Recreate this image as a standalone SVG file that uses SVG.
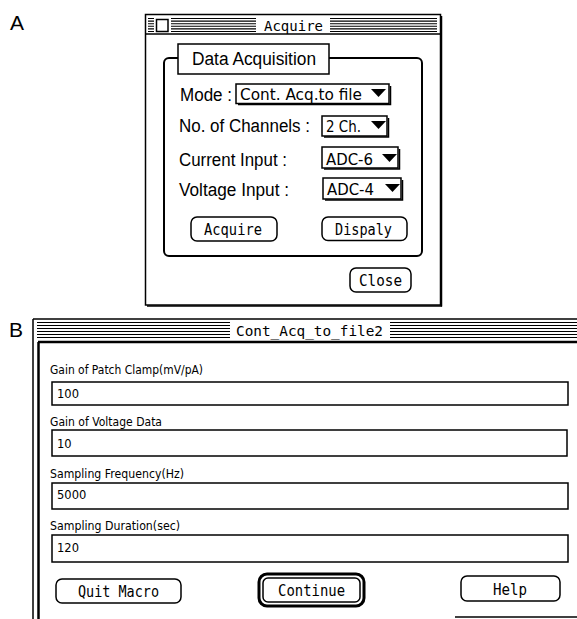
<svg xmlns="http://www.w3.org/2000/svg" width="577" height="619" viewBox="0 0 577 619">
<style>
.ln{stroke:#000;fill:none}
.box{fill:#fff;stroke:#000;stroke-width:1.5}
.stripe{stroke:#000;stroke-width:1.1}
.lbl{font-family:"Liberation Sans",Arial,sans-serif;font-size:18px;fill:#000}
.dd{font-family:"DejaVu Sans",Verdana,sans-serif;font-size:16px;fill:#000}
.mono{font-family:"DejaVu Sans Mono","Liberation Mono",monospace;fill:#000}
.small{font-family:"DejaVu Sans",Verdana,sans-serif;font-size:11.5px;fill:#000}
.btn{fill:#fff;stroke:#000;stroke-width:1.5}
.panel{font-family:"Liberation Sans",Arial,sans-serif;font-size:21px;fill:#000}
</style>
<rect width="577" height="619" fill="#fff"/>

<text class="panel" x="10" y="30">A</text>
<text class="panel" x="9" y="337">B</text>

<g id="acquire-window">
  <rect x="145.5" y="14.5" width="295" height="290.5" fill="#fff" stroke="#000" stroke-width="1.5"/>
  <line class="ln" x1="441.5" y1="16" x2="441.5" y2="306.5" stroke-width="1.5"/>
  <line class="ln" x1="147" y1="306" x2="442" y2="306" stroke-width="1.5"/>
  <line class="ln" x1="145.5" y1="34" x2="440.5" y2="34" stroke-width="1.5"/>
  <g id="acquire-stripes">
    <path class="stripe" d="M148 18.5H154M148 21.1H154M148 23.7H154M148 26.3H154M148 28.9H154M148 31.5H154"/>
    <path class="stripe" d="M171 18.5H256M171 21.1H256M171 23.7H256M171 26.3H256M171 28.9H256M171 31.5H256"/>
    <path class="stripe" d="M330 18.5H437M330 21.1H437M330 23.7H437M330 26.3H437M330 28.9H437M330 31.5H437"/>
  </g>
  <rect class="box" x="156.5" y="19.5" width="11.5" height="12"/>
  <text class="mono" x="264" y="30.5" font-size="14.5" textLength="59" lengthAdjust="spacingAndGlyphs">Acquire</text>
</g>

<g id="data-acquisition-group">
  <rect x="164" y="58" width="258" height="198" rx="5" fill="none" stroke="#000" stroke-width="2"/>
  <rect class="box" x="178" y="44" width="151" height="30"/>
  <text class="lbl" x="192" y="65" font-size="17" textLength="124" lengthAdjust="spacingAndGlyphs">Data Acquisition</text>
</g>

<g id="mode-row">
  <text class="lbl" x="180" y="101" textLength="52" lengthAdjust="spacingAndGlyphs">Mode :</text>
  <rect class="box" x="236" y="84" width="153" height="19.5"/>
  <path class="ln" d="M238 104.5H390.5V86" stroke-width="1.5"/>
  <text class="dd" x="240" y="100" textLength="122" lengthAdjust="spacingAndGlyphs">Cont. Acq.to file</text>
  <polygon points="371,89 386,89 378.5,97" fill="#000"/>
</g>

<g id="channels-row">
  <text class="lbl" x="179" y="132" textLength="131" lengthAdjust="spacingAndGlyphs">No. of Channels :</text>
  <rect class="box" x="322" y="116" width="65" height="20"/>
  <path class="ln" d="M324 137H388.5V118" stroke-width="1.5"/>
  <text class="dd" x="326" y="132" textLength="35" lengthAdjust="spacingAndGlyphs">2 Ch.</text>
  <polygon points="371,121 386,121 378.5,129" fill="#000"/>
</g>

<g id="current-row">
  <text class="lbl" x="179" y="166" textLength="108" lengthAdjust="spacingAndGlyphs">Current Input :</text>
  <rect class="box" x="322" y="147" width="76" height="21"/>
  <path class="ln" d="M324 169H399.5V149" stroke-width="1.5"/>
  <text class="dd" x="326" y="165" textLength="47" lengthAdjust="spacingAndGlyphs">ADC-6</text>
  <polygon points="382,154 397,154 389.5,162" fill="#000"/>
</g>

<g id="voltage-row">
  <text class="lbl" x="179" y="196" textLength="110" lengthAdjust="spacingAndGlyphs">Voltage Input :</text>
  <rect class="box" x="323" y="178" width="78" height="21"/>
  <path class="ln" d="M325 200H402.5V180" stroke-width="1.5"/>
  <text class="dd" x="327" y="195" textLength="47" lengthAdjust="spacingAndGlyphs">ADC-4</text>
  <polygon points="385,184 400,184 392.5,192" fill="#000"/>
</g>

<g id="acquire-button">
  <rect class="btn" x="191" y="217" width="86" height="24" rx="6"/>
  <text class="mono" x="204" y="234.5" font-size="15" textLength="58" lengthAdjust="spacingAndGlyphs">Acquire</text>
</g>
<g id="display-button">
  <rect class="btn" x="322" y="217" width="85" height="23.5" rx="6"/>
  <text class="mono" x="335" y="234.5" font-size="15" textLength="57" lengthAdjust="spacingAndGlyphs">Dispaly</text>
</g>
<g id="close-button">
  <rect class="btn" x="350" y="268" width="61" height="24" rx="6"/>
  <text class="mono" x="359" y="286" font-size="15" textLength="43" lengthAdjust="spacingAndGlyphs">Close</text>
</g>

<g id="macro-window">
  <line class="ln" x1="33" y1="319" x2="577" y2="319" stroke-width="1.5"/>
  <line class="ln" x1="33" y1="319" x2="33" y2="619" stroke-width="1.5"/>
  <line class="ln" x1="38" y1="342" x2="577" y2="342" stroke-width="2.5"/>
  <line class="ln" x1="38.5" y1="342" x2="38.5" y2="619" stroke-width="2.5"/>
  <g id="macro-stripes">
    <path class="stripe" d="M37 322.5H230M37 325.5H230M37 328.5H230M37 331.5H230M37 334.5H230M37 337.5H230"/>
    <path class="stripe" d="M390 322.5H577M390 325.5H577M390 328.5H577M390 331.5H577M390 334.5H577M390 337.5H577"/>
  </g>
  <text class="mono" x="236" y="335.5" font-size="14.5" textLength="147" lengthAdjust="spacingAndGlyphs">Cont_Acq_to_file2</text>
  <line class="ln" x1="455" y1="617" x2="577" y2="617" stroke-width="1.5"/>
</g>

<g id="field-gain-patch">
  <text class="small" x="50" y="374" textLength="153" lengthAdjust="spacingAndGlyphs">Gain of Patch Clamp(mV/pA)</text>
  <rect class="box" x="52" y="382" width="516" height="23"/>
  <text class="small" x="57" y="398">100</text>
</g>
<g id="field-gain-voltage">
  <text class="small" x="50" y="426" textLength="112" lengthAdjust="spacingAndGlyphs">Gain of Voltage Data</text>
  <rect class="box" x="52" y="430" width="515" height="26"/>
  <text class="small" x="57" y="448">10</text>
</g>
<g id="field-sampling-frequency">
  <text class="small" x="50" y="478" textLength="134" lengthAdjust="spacingAndGlyphs">Sampling Frequency(Hz)</text>
  <rect class="box" x="52" y="483" width="516" height="26"/>
  <text class="small" x="57" y="499">5000</text>
</g>
<g id="field-sampling-duration">
  <text class="small" x="50" y="530" textLength="130" lengthAdjust="spacingAndGlyphs">Sampling Duration(sec)</text>
  <rect class="box" x="52" y="535" width="516" height="27"/>
  <text class="small" x="57" y="552">120</text>
</g>

<g id="quit-macro-button">
  <rect class="btn" x="56" y="579" width="125" height="24" rx="6"/>
  <text class="mono" x="78" y="596.5" font-size="16" textLength="81" lengthAdjust="spacingAndGlyphs">Quit Macro</text>
</g>
<g id="continue-button">
  <rect x="259" y="574" width="105" height="32" rx="8" fill="#fff" stroke="#000" stroke-width="3"/>
  <rect class="btn" x="263" y="578" width="97" height="24" rx="5"/>
  <text class="mono" x="278" y="595.5" font-size="16" textLength="67" lengthAdjust="spacingAndGlyphs">Continue</text>
</g>
<g id="help-button">
  <rect class="btn" x="461" y="576" width="99" height="25" rx="6"/>
  <text class="mono" x="493" y="594.5" font-size="16" textLength="34" lengthAdjust="spacingAndGlyphs">Help</text>
</g>
</svg>
